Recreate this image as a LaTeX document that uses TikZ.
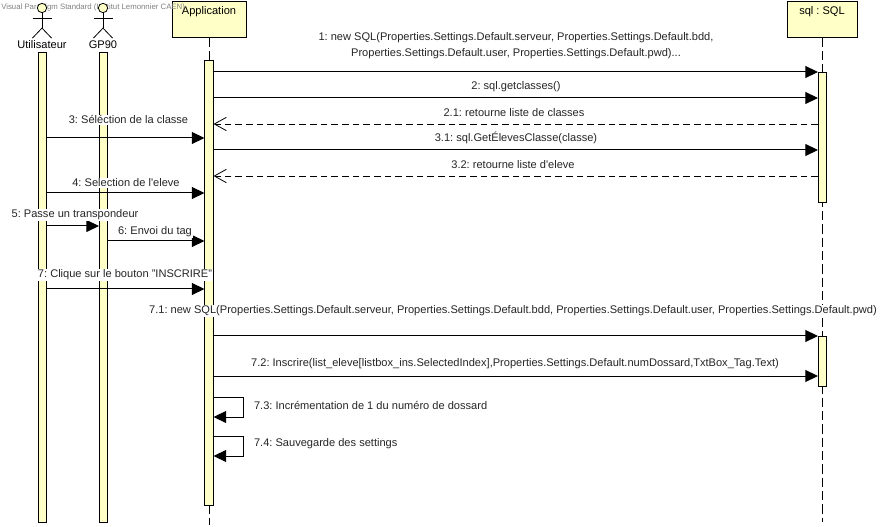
\documentclass[tikz,border=0pt]{standalone}
\usepackage{fontspec}
\setmainfont{Liberation Sans}
\usepackage{xcolor}
\usetikzlibrary{arrows.meta}
\usetikzlibrary{calc}
\definecolor{barfill}{HTML}{FFFFC8}
\frenchspacing
\tikzset{
	box/.style={draw=black, fill=barfill, line width=0.75pt, minimum width=#1*0.75pt, anchor=north, text height=9.75pt, text depth=17pt, inner sep=0pt, align=center},
	bar/.style={draw=black, fill=barfill, line width=0.6pt, minimum width=6.2pt, minimum height=#1*0.75pt, inner sep=0pt},
	head/.style={circle, draw=black, fill=barfill, line width=0.6pt, minimum size=7pt, inner sep=0pt},
	lifeline/.style={line width=0.6pt, dash pattern=on 7pt off 3pt},
	call/.style={line width=0.75pt, -{Triangle[length=9.5pt,width=9pt]}},
	back/.style={line width=0.6pt, dash pattern=on 5pt off 3pt, -{Straight Barb[length=9pt,width=10pt,line width=0.6pt]}},
	txt/.style={fill=white, inner sep=0.6pt, align=center, text=black!85, yshift=-0.7pt}
}
\begin{document}
\begin{tikzpicture}[x=0.75pt, y=-0.75pt, font=\fontsize{8.3pt}{12pt}\selectfont]
	\useasboundingbox (0,0) rectangle (889,527);

	% Boxes and lifelines
	\node[box=74] (boxApp) at (209,1) {Application};
	\node[box=70] (boxSql) at (822,1) {sql : SQL};
	\node[text=black!50, font=\fontsize{5.85pt}{7pt}\selectfont, inner sep=0pt, anchor=west] (mark) at (1,7) {Visual Paradigm Standard (Institut Lemonnier CAEN)};
	\coordinate (endApp) at (209,525);
	\coordinate (endSql) at (822,522);
	\node[bar=470] (barUser) at (42.5,287) {};
	\node[bar=470] (barGp) at (103.5,287) {};
	\draw[lifeline] (boxApp.south) -- (endApp);
	\draw[lifeline] (boxSql.south) -- (endSql);
	\node[bar=445] (barApp) at (209,282.5) {};
	\node[bar=130] (barSql) at (822.5,137) {};
	\node[bar=50] (barSqlTwo) at (822.5,361) {};

	% Actors
	\node[head] (headUser) at (42,8) {};
	\node[head] (headGp) at (103,8) {};
	\foreach \h in {headUser, headGp}{
		\draw[line width=0.6pt] (\h.south) -- ++(0,15) coordinate (hip);
		\draw[line width=0.6pt] ($(\h.south)+(-9.5,5)$) -- ++(19,0);
		\draw[line width=0.6pt] ($(\h.south)+(-9.5,25)$) -- (hip) -- ++(9.5,10);
	}
	\node[inner sep=0pt] (nameUser) at (42,45) {Utilisateur};
	\node[inner sep=0pt] (nameGp) at (103,45) {GP90};

	% Messages
	\draw[call] (barApp.east |- 0,72) -- (barSql.west |- 0,72);
	\draw[call] (barApp.east |- 0,98) -- (barSql.west |- 0,98);
	\draw[back] (barSql.west |- 0,124) -- (barApp.east |- 0,124);
	\draw[call] (barUser.east |- 0,138) -- (barApp.west |- 0,138);
	\draw[call] (barApp.east |- 0,150) -- (barSql.west |- 0,150);
	\draw[back] (barSql.west |- 0,176) -- (barApp.east |- 0,176);
	\draw[call] (barUser.east |- 0,193) -- (barApp.west |- 0,193);
	\draw[call] (barUser.east |- 0,226) -- (barGp.west |- 0,226);
	\draw[call] (barGp.east |- 0,241) -- (barApp.west |- 0,241);
	\draw[call] (barUser.east |- 0,289) -- (barApp.west |- 0,289);
	\draw[call] (barApp.east |- 0,336) -- (barSqlTwo.west |- 0,336);
	\draw[call] (barApp.east |- 0,376) -- (barSqlTwo.west |- 0,376);
	\draw[call] (barApp.east |- 0,397) -- ++(30,0) -- ++(0,20) -- (barApp.east |- 0,417);
	\draw[call] (barApp.east |- 0,436) -- ++(30,0) -- ++(0,20) -- (barApp.east |- 0,456);

	% Labels
	\node[txt] (msgOne) at (516,45) {1: new SQL(Properties.Settings.Default.serveur, Properties.Settings.Default.bdd,\\Properties.Settings.Default.user, Properties.Settings.Default.pwd)...};
	\node[txt] (msgTwo) at (516,86) {2: sql.getclasses()};
	\node[txt] (msgTwoOne) at (514,112) {2.1: retourne liste de classes};
	\node[txt] (msgThree) at (128.5,119) {3: Séléction de la classe};
	\node[txt] (msgThreeOne) at (516,137) {3.1: sql.GetÉlevesClasse(classe)};
	\node[txt] (msgThreeTwo) at (513,164) {3.2: retourne liste d\textquotesingle eleve};
	\node[txt] (msgFour) at (126,182) {4: Selection de l\textquotesingle eleve};
	\node[txt] (msgFive) at (75,214) {5: Passe un transpondeur};
	\node[txt] (msgSix) at (155,231) {6: Envoi du tag};
	\node[txt] (msgSeven) at (125,274) {7: Clique sur le bouton "INSCRIRE"};
	\node[txt] (msgSevenOne) at (513,310) {7.1: new SQL(Properties.Settings.Default.serveur, Properties.Settings.Default.bdd, Properties.Settings.Default.user, Properties.Settings.Default.pwd)};
	\node[txt] (msgSevenTwo) at (515,363) {7.2: Inscrire(list\_eleve[listbox\_ins.SelectedIndex],Properties.Settings.Default.numDossard,TxtBox\_Tag.Text)};
	\node[txt, anchor=west] (msgSevenThree) at (253,405) {7.3: Incrémentation de 1 du numéro de dossard};
	\node[txt, anchor=west] (msgSevenFour) at (253,443) {7.4: Sauvegarde des settings};
\end{tikzpicture}
\end{document}
